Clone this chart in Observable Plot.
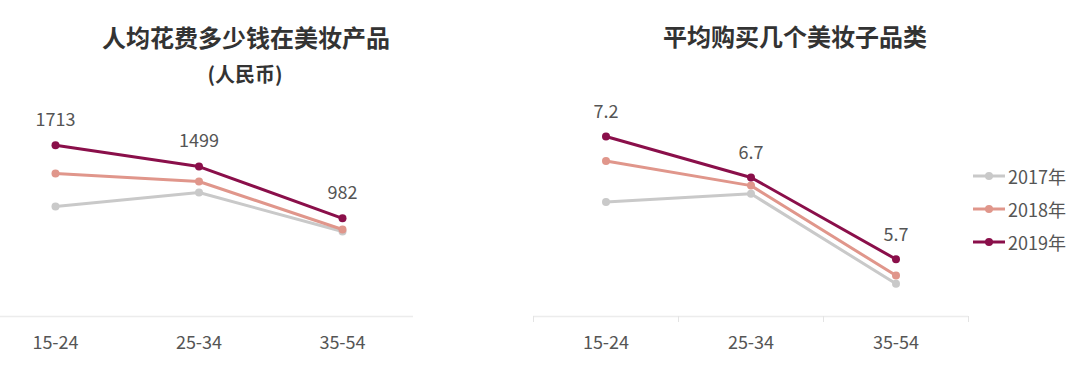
<!DOCTYPE html>
<html>
<head>
<meta charset="utf-8">
<script src="https://cdn.jsdelivr.net/npm/d3@7"></script>
<script src="https://cdn.jsdelivr.net/npm/@observablehq/plot@0.6"></script>
<style>
  html, body { margin: 0; padding: 0; background: #fff; }
  #wrap { position: relative; width: 1080px; height: 385px; overflow: hidden;
          font-family: "Noto Sans CJK SC", "Noto Sans", sans-serif; }
  .title { position: absolute; font-weight: bold; color: #333; font-size: 24px; white-space: nowrap;
           transform: translate(-50%, -50%); line-height: 1; }
  .sub { font-size: 20px; }
  .chart { position: absolute; top: 0; }
  #legend { position: absolute; left: 973px; top: 0; }
  .item { position: absolute; left: 0; display: flex; align-items: center; transform: translateY(-50%);
          font-size: 18px; color: #555; white-space: nowrap; line-height: 1; }
  .item svg { margin-right: 3px; }
</style>
</head>
<body>
<div id="wrap">
  <div class="title" style="left:246px; top:37px;">人均花费多少钱在美妆产品</div>
  <div class="title sub" style="left:245px; top:74px;">(人民币)</div>
  <div class="title" style="left:795px; top:36px;">平均购买几个美妆子品类</div>
  <div id="left" class="chart" style="left:0px;"></div>
  <div id="right" class="chart" style="left:520px;"></div>
  <div id="legend"></div>
</div>
<script>
const ages = ["15-24", "25-34", "35-54"];
const years = ["2017年", "2018年", "2019年"];
const colors = ["#c9c9c9", "#e0968b", "#8a0f4a"];

// 人均花费 (人民币)
const spend2017 = [1100, 1240, 850];
const spend2018 = [1430, 1350, 870];
const spend2019 = [1713, 1499, 982];

// 平均购买子品类数
const cat2017 = [6.4, 6.5, 5.4];
const cat2018 = [6.9, 6.6, 5.5];
const cat2019 = [7.2, 6.7, 5.7];

const font = '"Noto Sans CJK SC", "Noto Sans", sans-serif';

function rows(seriesList) {
  return seriesList.map((vals, k) => vals.map((v, i) => ({year: years[k], i, v})));
}

function seriesMarks(groups) {
  return groups.flatMap(g => [
    Plot.line(g, {x: "i", y: "v", stroke: "year", strokeWidth: 3, strokeLinejoin: "round"}),
    Plot.dot(g, {x: "i", y: "v", fill: "year", r: 4})
  ]);
}

// Left chart
const spendRows = rows([spend2017, spend2018, spend2019]);
const left = Plot.plot({
  width: 430, height: 385,
  marginLeft: 0, marginRight: 17, marginTop: 116, marginBottom: 69,
  style: {fontFamily: font, color: "#555", background: "transparent"},
  x: {domain: [0, 2], range: [55, 342], axis: null},
  y: {domain: [0, 2000], range: [316, 116], axis: null},
  color: {domain: years, range: colors},
  marks: [
    Plot.ruleY([0], {stroke: "#ececec", strokeWidth: 1.5}),
    Plot.axisX({ticks: [0, 1, 2], tickFormat: i => ages[i], tickSize: 0, tickPadding: 20, fontSize: 18, label: null}),
    ...seriesMarks(spendRows),
    Plot.text(spendRows[2], {x: "i", y: "v", text: d => String(d.v), dy: -25, fontSize: 18, fill: "#555"})
  ]
});
document.getElementById("left").appendChild(left);

// Right chart
const catRows = rows([cat2017, cat2018, cat2019]);
const right = Plot.plot({
  width: 460, height: 385,
  marginLeft: 13, marginRight: 12, marginTop: 112, marginBottom: 69,
  style: {fontFamily: font, color: "#555", background: "transparent"},
  x: {domain: [-0.5, 2.5], axis: null},
  y: {domain: [5, 7.5], range: [316, 111.5], axis: null},
  color: {domain: years, range: colors},
  marks: [
    Plot.ruleY([5], {stroke: "#ececec", strokeWidth: 1.5}),
    Plot.axisX({ticks: [-0.5, 0.5, 1.5, 2.5], tickFormat: () => "", tickSize: 6, stroke: "#e4e4e4", label: null}),
    Plot.axisX({ticks: [0, 1, 2], tickFormat: i => ages[i], tickSize: 0, tickPadding: 20, fontSize: 18, label: null}),
    ...seriesMarks(catRows),
    Plot.text(catRows[2], {x: "i", y: "v", text: d => d.v.toFixed(1), dy: -24, fontSize: 18, fill: "#555"})
  ]
});
document.getElementById("right").appendChild(right);

// Legend
const legend = document.getElementById("legend");
const legendY = [176, 209, 242];
years.forEach((y, k) => {
  const item = document.createElement("div");
  item.className = "item";
  item.style.top = legendY[k] + "px";
  item.innerHTML = `<svg width="32" height="10"><line x1="0" y1="5" x2="32" y2="5" stroke="${colors[k]}" stroke-width="3"/><circle cx="16" cy="5" r="4" fill="${colors[k]}"/></svg><span>${y}</span>`;
  legend.appendChild(item);
});
</script>
</body>
</html>
